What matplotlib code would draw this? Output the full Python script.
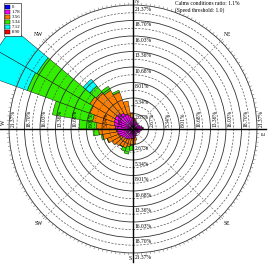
import numpy as np
import matplotlib.pyplot as plt
from matplotlib.patches import Wedge, Circle, Patch
from matplotlib.collections import LineCollection

plt.rcParams['font.family'] = 'Liberation Serif'

# wind directions (bin centres, degrees from north) and frequency (%) per speed class
directions = np.arange(5, 360, 10)
speed_labels = ['0', '1.78', '3.56', '5.34', '7.12', '8.90']
speed_colors = ['#0000ff', '#ff00ff', '#ff8000', '#33ee00', '#00ffff', '#ff0000']

f_0 = [0.2] * 36
f_178 = [1.5, 1.3, 1.1, 1.0, 1.0, 0.9, 1.1, 1.4, 1.5, 1.3, 1.1, 1.0,
         0.9, 0.8, 0.8, 1.0, 1.3, 1.4, 1.5, 1.5, 1.7, 1.8, 1.9, 2.1,
         2.3, 2.5, 2.7, 2.9, 3.1, 3.3, 3.4, 3.3, 3.0, 2.6, 2.2, 1.8]
f_356 = [0.2, 0.2, 0.1, 0.0, 0.0, 0.0, 0.0, 0.0, 0.1, 0.0, 0.0, 0.0,
         0.0, 0.0, 0.0, 0.1, 0.5, 1.0, 1.2, 1.4, 1.6, 1.5, 1.7, 1.9,
         2.2, 2.6, 3.0, 3.2, 3.8, 4.4, 5.0, 4.8, 4.5, 4.0, 2.5, 0.8]
f_534 = [0.0] * 18 + [0.8, 1.3, 0.6, 0.1, 0.0, 0.0,
                      0.1, 0.3, 1.0, 3.0, 7.0, 11.5, 10.5, 1.4, 0.8, 0.3, 0.0, 0.0]
f_712 = [0.0] * 29 + [10.0, 8.0, 1.5, 0.0, 0.0, 0.0, 0.0]
f_890 = [0.0] * 36
freqs = [f_0, f_178, f_356, f_534, f_712, f_890]

ring_values = [2.67, 5.34, 8.01, 10.68, 13.36, 16.03, 18.70, 21.37]
ring_step = 21.37 / 8
bin_width = 10

fig = plt.figure(figsize=(2.69, 2.65), dpi=100)
ax = fig.add_axes([0, 0, 1, 1])
ax.set_xlim(-22.93, 23.45)
ax.set_ylim(-23.45, 22.24)
ax.set_aspect('equal')
ax.axis('off')

# stacked sectors
base = np.zeros(len(directions))
for vals, col in zip(freqs, speed_colors):
    vals = np.array(vals)
    for d, b0, v in zip(directions, base, vals):
        if v <= 0:
            continue
        t = 90 - d
        ax.add_patch(Wedge((0, 0), b0 + v, t - bin_width / 2, t + bin_width / 2,
                           width=v, facecolor=col, edgecolor='black', lw=0.3, zorder=2))
    base = base + vals

# rings
for k in range(1, 9):
    ax.add_patch(Circle((0, 0), k * ring_step, fill=False, ec='#333333', lw=0.6, zorder=3))
    ax.add_patch(Circle((0, 0), (k - 0.5) * ring_step, fill=False, ec='#555555',
                        lw=0.5, ls=(0, (3, 2)), zorder=3))

# ticks on the outer ring
R = 21.37
ang = np.deg2rad(np.arange(0, 360, 2))
segs = [[(R * np.cos(a), R * np.sin(a)), ((R + 0.4) * np.cos(a), (R + 0.4) * np.sin(a))] for a in ang]
ax.add_collection(LineCollection(segs, colors='#777777', lw=0.4, zorder=3))

# diagonal guides
for a in [45, 135, 225, 315]:
    r = np.deg2rad(a)
    ax.plot([0, 22 * np.cos(r)], [0, 22 * np.sin(r)], color='#888888', lw=0.5,
            ls=(0, (3, 2)), zorder=3)

# main cross
ax.plot([-23, 23], [0, 0], color='black', lw=1.0, zorder=4)
ax.plot([0, 0], [-23, 23], color='black', lw=1.0, zorder=4)

# ring labels
fs = 4
for v in ring_values:
    lab = f'{v:.2f}%'
    ax.text(0.3, v - 0.3, lab, fontsize=fs, ha='left', va='top', zorder=5)
    ax.text(0.3, -v - 0.3, lab, fontsize=fs, ha='left', va='top', zorder=5)
    ax.text(-v + 0.3, 0.3, lab, fontsize=fs, ha='left', va='top', rotation=90,
            rotation_mode='anchor', zorder=5)
    ax.text(v + 0.3, 0.3, lab, fontsize=fs, ha='left', va='top', rotation=90,
            rotation_mode='anchor', zorder=5)

# compass labels
ax.text(0.3, 22.0, 'N', fontsize=fs, ha='left', va='center')
ax.text(-0.3, -22.4, 'S', fontsize=fs, ha='right', va='center')
ax.text(-22.4, 1.2, 'W', fontsize=fs, ha='center', va='center', rotation=90)
ax.text(22.6, -0.8, 'E', fontsize=fs, ha='center', va='center', rotation=90)
for name, a in [('NE', 45), ('NW', 135), ('SW', 225), ('SE', 315)]:
    r = np.deg2rad(a)
    ax.text(23 * np.cos(r), 23 * np.sin(r), name, fontsize=fs, ha='center', va='center')

# calm note
ax.text(7.2, 22.0, 'Calms conditions ratio: 1.1%\n(Speed threshold: 1.0)', fontsize=fs,
        ha='left', va='top', linespacing=1.1)

handles = [Patch(facecolor=c, edgecolor='black', lw=0.3) for c in speed_colors]
leg = fig.legend(handles, speed_labels, loc='upper left', bbox_to_anchor=(0.004, 0.996),
                 fontsize=3.5, handlelength=1.0, handleheight=0.85, handletextpad=0.4,
                 labelspacing=0.08, borderpad=0.25, fancybox=False, framealpha=1)
leg.get_frame().set_edgecolor('black')
leg.get_frame().set_linewidth(0.4)

fig.savefig('out.png', dpi=100)
